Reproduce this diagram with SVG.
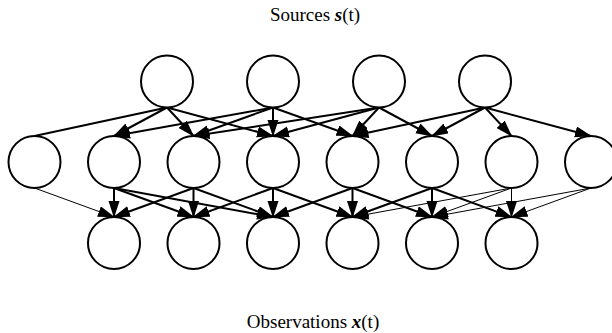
<svg xmlns="http://www.w3.org/2000/svg" width="612" height="333" viewBox="0 0 612 333">
  <style>
    .node { fill: #fff; stroke: #000; stroke-width: 2; }
    .edge { stroke: #000; stroke-width: 2; fill: none; }
    .thin { stroke-width: 1; }
    .label { font-family: "Liberation Serif", "Times New Roman", serif; font-size: 19px; fill: #000; }
    .vec { font-weight: bold; font-style: italic; }
  </style>
  <defs>
    <marker id="arrow" markerUnits="userSpaceOnUse" markerWidth="18" markerHeight="12" refX="16" refY="5.5" orient="auto">
      <path d="M0,0 L17,5.5 L0,11 z" fill="#000"/>
    </marker>
  </defs>

  <rect width="612" height="333" fill="#fff"/>

  <text class="label" x="315" y="21" text-anchor="middle">Sources <tspan class="vec">s</tspan>(t)</text>
  <text class="label" x="313" y="328" text-anchor="middle">Observations <tspan class="vec">x</tspan>(t)</text>

  <!-- connectors -->
  <g id="connectors">
    <!-- sources to intermediate layer -->
    <line class="edge" x1="167" y1="107.5" x2="34.5" y2="136"/>
    <line class="edge" x1="167" y1="107.5" x2="114" y2="136" marker-end="url(#arrow)"/>
    <line class="edge" x1="167" y1="107.5" x2="193.5" y2="136" marker-end="url(#arrow)"/>
    <line class="edge" x1="167" y1="107.5" x2="273" y2="136" marker-end="url(#arrow)"/>

    <line class="edge" x1="273" y1="107.5" x2="114" y2="136" marker-end="url(#arrow)"/>
    <line class="edge" x1="273" y1="107.5" x2="193.5" y2="136" marker-end="url(#arrow)"/>
    <line class="edge" x1="273" y1="107.5" x2="273" y2="136" marker-end="url(#arrow)"/>
    <line class="edge" x1="273" y1="107.5" x2="352.5" y2="136" marker-end="url(#arrow)"/>

    <line class="edge" x1="379" y1="107.5" x2="193.5" y2="136" marker-end="url(#arrow)"/>
    <line class="edge" x1="379" y1="107.5" x2="273" y2="136" marker-end="url(#arrow)"/>
    <line class="edge" x1="379" y1="107.5" x2="352.5" y2="136" marker-end="url(#arrow)"/>
    <line class="edge" x1="379" y1="107.5" x2="432" y2="136" marker-end="url(#arrow)"/>

    <line class="edge" x1="485" y1="107.5" x2="352.5" y2="136" marker-end="url(#arrow)"/>
    <line class="edge" x1="485" y1="107.5" x2="432" y2="136" marker-end="url(#arrow)"/>
    <line class="edge" x1="485" y1="107.5" x2="511.5" y2="136" marker-end="url(#arrow)"/>
    <line class="edge" x1="485" y1="107.5" x2="591" y2="136" marker-end="url(#arrow)"/>

    <!-- intermediate layer to observations -->
    <line class="edge thin" x1="34.5" y1="188" x2="114" y2="217" marker-end="url(#arrow)"/>

    <line class="edge" x1="114" y1="188" x2="114" y2="217" marker-end="url(#arrow)"/>
    <line class="edge" x1="114" y1="188" x2="193.5" y2="217" marker-end="url(#arrow)"/>
    <line class="edge" x1="114" y1="188" x2="273" y2="217" marker-end="url(#arrow)"/>

    <line class="edge" x1="193.5" y1="188" x2="114" y2="217" marker-end="url(#arrow)"/>
    <line class="edge" x1="193.5" y1="188" x2="193.5" y2="217" marker-end="url(#arrow)"/>
    <line class="edge" x1="193.5" y1="188" x2="273" y2="217" marker-end="url(#arrow)"/>

    <line class="edge" x1="273" y1="188" x2="193.5" y2="217" marker-end="url(#arrow)"/>
    <line class="edge" x1="273" y1="188" x2="273" y2="217" marker-end="url(#arrow)"/>
    <line class="edge" x1="273" y1="188" x2="352.5" y2="217" marker-end="url(#arrow)"/>

    <line class="edge" x1="352.5" y1="188" x2="273" y2="217" marker-end="url(#arrow)"/>
    <line class="edge" x1="352.5" y1="188" x2="352.5" y2="217" marker-end="url(#arrow)"/>
    <line class="edge" x1="352.5" y1="188" x2="432" y2="217" marker-end="url(#arrow)"/>

    <line class="edge" x1="432" y1="188" x2="352.5" y2="217" marker-end="url(#arrow)"/>
    <line class="edge" x1="432" y1="188" x2="432" y2="217" marker-end="url(#arrow)"/>
    <line class="edge" x1="432" y1="188" x2="511.5" y2="217" marker-end="url(#arrow)"/>

    <line class="edge thin" x1="511.5" y1="188" x2="352.5" y2="217" marker-end="url(#arrow)"/>
    <line class="edge thin" x1="511.5" y1="188" x2="432" y2="217" marker-end="url(#arrow)"/>
    <line class="edge thin" x1="511.5" y1="188" x2="511.5" y2="217" marker-end="url(#arrow)"/>

    <line class="edge thin" x1="591" y1="188" x2="432" y2="217" marker-end="url(#arrow)"/>
    <line class="edge thin" x1="591" y1="188" x2="511.5" y2="217" marker-end="url(#arrow)"/>
  </g>

  <!-- source nodes -->
  <g id="s1"><circle class="node" cx="167" cy="81.5" r="26"/></g>
  <g id="s2"><circle class="node" cx="273" cy="81.5" r="26"/></g>
  <g id="s3"><circle class="node" cx="379" cy="81.5" r="26"/></g>
  <g id="s4"><circle class="node" cx="485" cy="81.5" r="26"/></g>

  <!-- intermediate nodes -->
  <g id="m1"><circle class="node" cx="34.5" cy="162" r="26"/></g>
  <g id="m2"><circle class="node" cx="114" cy="162" r="26"/></g>
  <g id="m3"><circle class="node" cx="193.5" cy="162" r="26"/></g>
  <g id="m4"><circle class="node" cx="273" cy="162" r="26"/></g>
  <g id="m5"><circle class="node" cx="352.5" cy="162" r="26"/></g>
  <g id="m6"><circle class="node" cx="432" cy="162" r="26"/></g>
  <g id="m7"><circle class="node" cx="511.5" cy="162" r="26"/></g>
  <g id="m8"><circle class="node" cx="591" cy="162" r="26"/></g>

  <!-- observation nodes -->
  <g id="x1"><circle class="node" cx="114" cy="243" r="26"/></g>
  <g id="x2"><circle class="node" cx="193.5" cy="243" r="26"/></g>
  <g id="x3"><circle class="node" cx="273" cy="243" r="26"/></g>
  <g id="x4"><circle class="node" cx="352.5" cy="243" r="26"/></g>
  <g id="x5"><circle class="node" cx="432" cy="243" r="26"/></g>
  <g id="x6"><circle class="node" cx="511.5" cy="243" r="26"/></g>
</svg>
